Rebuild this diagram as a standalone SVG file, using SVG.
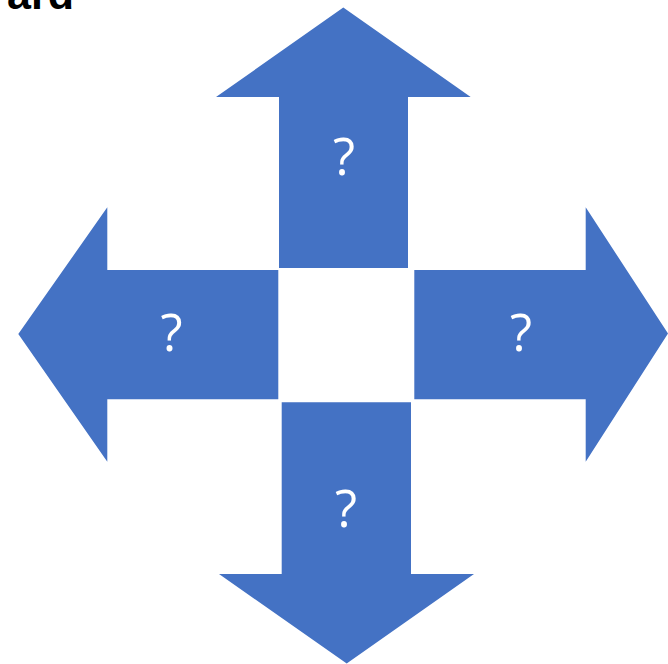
<svg xmlns="http://www.w3.org/2000/svg" width="668" height="664" viewBox="0 0 668 664">
<style>
.arrow{fill:#4472C4;}
.q{fill:#ffffff;font-family:"Open Sans","Liberation Sans",sans-serif;font-size:51px;text-anchor:middle;}
.title{fill:#000000;font-family:"Liberation Sans",Arial,sans-serif;font-weight:bold;font-size:43px;text-anchor:end;}
</style>
<rect width="668" height="664" fill="#ffffff"/>
<text class="title" x="74" y="9">ard</text>
<g id="up">
<polygon class="arrow" points="343.3,7.5 470.7,97 408,97 408,268 279,268 279,97 216,97"/>
<text class="q" x="344" y="175">?</text>
</g>
<g id="left">
<polygon class="arrow" points="18.3,334 107.3,207.3 107.3,270 278.3,270 278.3,399.3 107.3,399.3 107.3,461.7"/>
<text class="q" x="171.5" y="351">?</text>
</g>
<g id="right">
<polygon class="arrow" points="668,333.5 585.7,207.3 585.7,270 414.3,270 414.3,399.3 585.7,399.3 585.7,461.7"/>
<text class="q" x="521" y="351">?</text>
</g>
<g id="down">
<polygon class="arrow" points="346.7,663.5 474,574 411,574 411,402.3 281.7,402.3 281.7,574 219,574"/>
<text class="q" x="346" y="527">?</text>
</g>
<g id="connectors"></g>
</svg>
